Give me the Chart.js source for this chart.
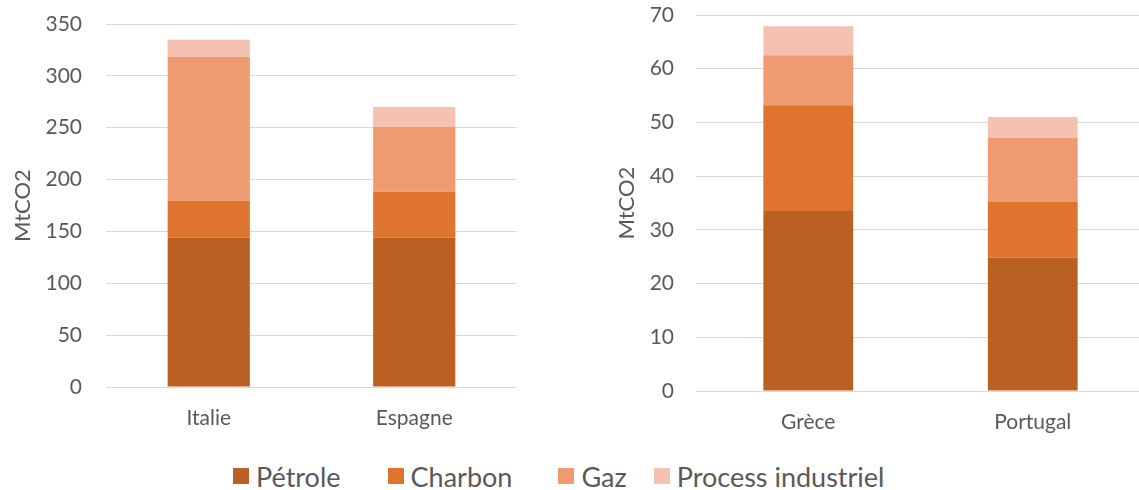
<!DOCTYPE html>
<html>
<head>
<meta charset="utf-8">
<script src="https://cdn.jsdelivr.net/npm/chart.js@4"></script>
<style>
    html, body { margin: 0; padding: 0; background: #fff; overflow: hidden; }
    body { width: 1139px; height: 490px; position: relative; font-family: Lato, sans-serif; }
    .box { position: absolute; top: 0; height: 440px; }
    #left-box { left: 0; width: 560px; }
    #right-box { left: 580px; width: 580px; }
    #legend {
        position: absolute; top: 458px; left: 233px; height: 36px;
        display: flex; align-items: center;
        color: #595959; font-size: 27px; white-space: nowrap;
    }
    .item { display: flex; align-items: center; }
    .item:nth-child(1) { margin-right: 47px; }
    .item:nth-child(2) { margin-right: 46px; }
    .item:nth-child(3) { margin-right: 27px; }
    .swatch { width: 16px; height: 16px; margin-right: 7px; }
</style>
</head>
<body>
<div class="box" id="left-box"><canvas id="left-chart"></canvas></div>
<div class="box" id="right-box"><canvas id="right-chart"></canvas></div>
<div id="legend"></div>
<script>
// Data (MtCO2)
const leftCountries = ['Italie', 'Espagne'];
const rightCountries = ['Grèce', 'Portugal'];

const seriesNames = ['Pétrole', 'Charbon', 'Gaz', 'Process industriel'];
const seriesColors = ['#BA6023', '#DE742E', '#F09A72', '#F5C2B1'];

// values per series, in country order
const leftPetrole = [144.2, 144.2];
const leftCharbon = [35.7, 44.1];
const leftGaz = [138.6, 62.7];
const leftProcess = [16.4, 19.0];

const rightPetrole = [33.5, 24.8];
const rightCharbon = [19.7, 10.5];
const rightGaz = [9.3, 11.8];
const rightProcess = [5.4, 3.9];

const TEXT = '#595959';
const GRID = '#D9D9D9';

/**
 * Build a stacked bar chart
 */
function makeChart(id, labels, values, opts) {
    const ctx = document.getElementById(id).getContext('2d');
    return new Chart(ctx, {
        type: 'bar',
        data: {
            labels: labels,
            datasets: values.map((data, i) => ({
                label: seriesNames[i],
                data: data,
                backgroundColor: seriesColors[i],
                borderWidth: 0,
                categoryPercentage: 1,
                barPercentage: 0.4
            }))
        },
        options: {
            responsive: true,
            maintainAspectRatio: false,
            animation: false,
            layout: {
                padding: { top: opts.top, right: opts.right, bottom: 0, left: 0 }
            },
            plugins: {
                legend: { display: false },
                tooltip: { enabled: false }
            },
            scales: {
                x: {
                    stacked: true,
                    grid: { display: false, drawTicks: false },
                    border: { display: false },
                    ticks: {
                        color: TEXT,
                        font: { family: 'Lato', size: 21 },
                        padding: 19
                    },
                    afterFit: scale => { scale.height = opts.xHeight; }
                },
                y: {
                    stacked: true,
                    min: 0,
                    max: opts.max,
                    grid: { color: GRID, lineWidth: 1, drawTicks: false },
                    border: { display: false },
                    ticks: {
                        stepSize: opts.step,
                        color: TEXT,
                        font: { family: 'Lato', size: 21 },
                        padding: opts.tickPad
                    },
                    title: {
                        display: true,
                        text: 'MtCO2',
                        color: TEXT,
                        font: { family: 'Lato', size: 22 },
                        padding: { top: opts.titlePad, bottom: 0 }
                    },
                    afterFit: scale => {
                        scale.width = opts.yWidth;
                        // keep the plot top where the layout padding says
                        scale.paddingTop = 0;
                        scale.paddingBottom = 0;
                    }
                }
            }
        }
    });
}

makeChart('left-chart', leftCountries,
    [leftPetrole, leftCharbon, leftGaz, leftProcess],
    { max: 350, step: 50, top: 24, right: 43, xHeight: 53, yWidth: 106, tickPad: 24, titlePad: 10 });

makeChart('right-chart', rightCountries,
    [rightPetrole, rightCharbon, rightGaz, rightProcess],
    { max: 70, step: 10, top: 15, right: 15, xHeight: 49, yWidth: 116, tickPad: 22, titlePad: 34 });

// Shared legend below both charts
const legend = document.getElementById('legend');
seriesNames.forEach((name, i) => {
    const item = document.createElement('div');
    item.className = 'item';
    const sw = document.createElement('span');
    sw.className = 'swatch';
    sw.style.background = seriesColors[i];
    const label = document.createElement('span');
    label.textContent = name;
    item.appendChild(sw);
    item.appendChild(label);
    legend.appendChild(item);
});
</script>
</body>
</html>
